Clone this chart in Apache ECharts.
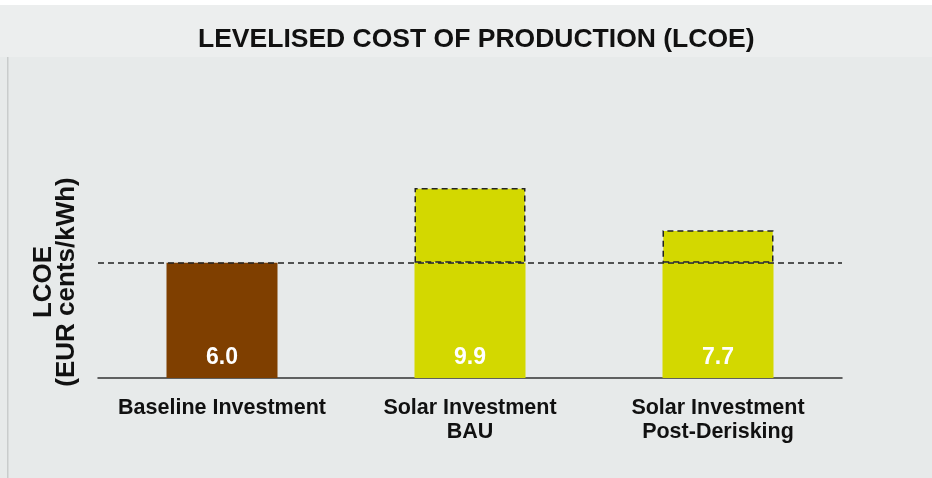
<!DOCTYPE html>
<html>
<head>
<meta charset="utf-8">
<script src="https://cdn.jsdelivr.net/npm/echarts@6/dist/echarts.min.js"></script>
<style>
html,body{margin:0;padding:0;background:#e8ebeb;}
#chart{width:932px;height:478px;}
</style>
</head>
<body>
<div id="chart"></div>
<script>
const categories = ['Baseline Investment', 'Solar Investment\nBAU', 'Solar Investment\nPost-Derisking'];
const lcoe = [6.0, 9.9, 7.7];
const barColors = ['#7f3f00', '#d3d800', '#d3d800'];
const baselineLevel = 6.0;
const titleText = 'LEVELISED COST OF PRODUCTION (LCOE)';
const yName = 'LCOE\n(EUR cents/kWh)';

const chart = echarts.init(document.getElementById('chart'));
const font = '"Liberation Sans", Arial, Helvetica, sans-serif';

const baseData = lcoe.map((v, i) => ({
  value: Math.min(v, baselineLevel),
  itemStyle: { color: barColors[i] }
}));
const topData = lcoe.map((v, i) => v > baselineLevel ? {
  value: +(v - baselineLevel).toFixed(2),
  itemStyle: { color: barColors[i] }
} : '-');

chart.setOption({
  backgroundColor: '#e7eaea',
  animation: false,
  graphic: [
    { type: 'rect', left: 0, top: 0, shape: { width: 932, height: 57 }, style: { fill: '#eceeee' }, z: -10 },
    { type: 'rect', left: 0, top: 0, shape: { width: 932, height: 5 }, style: { fill: '#ffffff' }, z: -9 },
    { type: 'rect', left: 7, top: 57, shape: { width: 1.5, height: 421 }, style: { fill: '#c9cccc' }, z: -9 }
  ],
  title: {
    text: titleText,
    left: 193,
    top: 21,
    textStyle: { fontFamily: font, fontWeight: 'bold', fontSize: 26.5, color: '#111' }
  },
  grid: { left: 98, right: 90, top: 186, bottom: 100 },
  xAxis: {
    type: 'category',
    data: categories,
    axisLine: { show: true, lineStyle: { color: '#333', width: 1.5 } },
    axisTick: { show: false },
    axisLabel: {
      interval: 0,
      margin: 18,
      fontFamily: font, fontWeight: 'bold', fontSize: 21.5, color: '#111', lineHeight: 24
    }
  },
  yAxis: {
    type: 'value',
    min: 0, max: 10,
    axisLine: { show: false },
    axisTick: { show: false },
    axisLabel: { show: false },
    splitLine: { show: false },
    name: yName,
    nameLocation: 'middle',
    nameRotate: 90,
    nameGap: 20,
    nameTextStyle: { fontFamily: font, fontWeight: 'bold', fontSize: 26, color: '#111', lineHeight: 23, align: 'center' }
  },
  series: [
    {
      type: 'bar',
      stack: 'lcoe',
      barWidth: 111,
      data: baseData,
      label: {
        show: true,
        position: 'insideBottom',
        distance: 9,
        formatter: p => lcoe[p.dataIndex].toFixed(1),
        fontFamily: font, fontWeight: 'bold', fontSize: 23, color: '#ffffff'
      },
      z: 2
    },
    {
      type: 'bar',
      stack: 'lcoe',
      barWidth: 111,
      data: topData,
      itemStyle: { borderColor: '#222', borderWidth: 1.5, borderType: [6, 4] },
      z: 3,
      markLine: {
        silent: true,
        symbol: 'none',
        label: { show: false },
        lineStyle: { color: '#222', type: [6, 4], width: 1.5 },
        data: [{ yAxis: baselineLevel }],
        z: 5
      }
    }
  ]
});
</script>
</body>
</html>
